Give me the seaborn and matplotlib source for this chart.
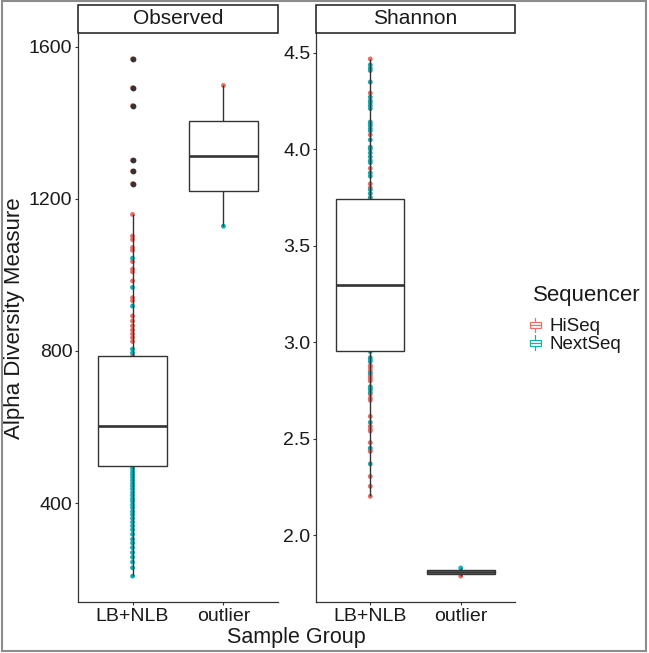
import numpy as np
import pandas as pd
import matplotlib
matplotlib.use("Agg")
import matplotlib.pyplot as plt
import seaborn as sns
from matplotlib.patches import Rectangle
from matplotlib.lines import Line2D
from matplotlib.legend_handler import HandlerBase

# ---------------- data ----------------
groups = ["LB+NLB", "outlier"]
sequencers = ["HiSeq", "NextSeq"]
measures = ["Observed", "Shannon"]
palette = {"HiSeq": "#EC7068", "NextSeq": "#10B2B8"}

# Observed richness, LB+NLB group
obs_lb_hiseq = [1568, 1492, 1445, 1301, 1273, 1240, 1159, 1102, 1093, 1072, 1065,
                1035, 1015, 1008, 984, 940, 932, 892, 879, 866, 855, 845, 835, 825,
                787, 778, 769, 762, 755, 748, 741, 734, 727, 720, 714, 708, 702, 696,
                690, 684, 678, 672, 666, 660, 654, 648, 642, 636, 630, 624, 618, 612,
                606, 602]
obs_lb_nextseq = [1044, 967, 918, 805, 795,
                  598, 594, 590, 587, 584, 581, 578, 575, 572, 569, 566, 563, 560,
                  556, 552, 548, 544, 540, 536, 532, 528, 524, 520, 516, 512, 508,
                  504, 500, 497,
                  490, 482, 475, 468, 460, 452, 445, 437, 428, 420, 412, 405, 396,
                  388, 378, 370, 360, 350, 340, 330, 318, 305, 295, 283, 270, 258,
                  245, 230, 208]
obs_out_hiseq = [1498]
obs_out_nextseq = [1128]

# Shannon index, LB+NLB group
sha_lb_hiseq = [4.467, 4.29, 4.074, 3.90, 3.82, 3.80,
                3.743, 3.73, 3.71, 3.69, 3.67, 3.66, 3.65, 3.64, 3.63, 3.62, 3.61,
                3.60, 3.59, 3.58, 3.57, 3.56, 3.55, 3.54, 3.53, 3.52, 3.51, 3.50,
                3.49, 3.47, 3.45, 3.43, 3.41, 3.39, 3.37, 3.35, 3.33, 3.31, 3.298,
                2.88, 2.875, 2.865, 2.85, 2.83, 2.82, 2.81, 2.80, 2.73, 2.71, 2.70,
                2.616, 2.565, 2.55, 2.54, 2.48, 2.44, 2.435, 2.305, 2.254, 2.202]
sha_lb_nextseq = [4.436, 4.419, 4.407, 4.347, 4.269, 4.25, 4.24, 4.225, 4.21,
                  4.14, 4.13, 4.12, 4.105, 4.095, 4.048, 4.01, 4.00, 3.98, 3.96,
                  3.94, 3.93, 3.876, 3.86, 3.79, 3.77, 3.75,
                  3.29, 3.27, 3.25, 3.23, 3.22, 3.21, 3.20, 3.19, 3.18, 3.17, 3.16,
                  3.15, 3.14, 3.13, 3.12, 3.11, 3.10, 3.09, 3.08, 3.07, 3.06, 3.05,
                  3.04, 3.03, 3.02, 3.01, 3.00, 2.99, 2.98, 2.97, 2.96, 2.952,
                  2.92, 2.91, 2.90, 2.84, 2.77, 2.76, 2.755, 2.74, 2.585, 2.452, 2.37]
sha_out_hiseq = [1.789]
sha_out_nextseq = [1.831]

y_limits = {"Observed": (140, 1636), "Shannon": (1.655, 4.601)}
y_ticks = {"Observed": [400, 800, 1200, 1600], "Shannon": [2.0, 2.5, 3.0, 3.5, 4.0, 4.5]}
y_ticklabels = {"Observed": ["400", "800", "1200", "1600"],
                "Shannon": ["2.0", "2.5", "3.0", "3.5", "4.0", "4.5"]}

rows = []
for meas, g, seq, vals in [
    ("Observed", "LB+NLB", "HiSeq", obs_lb_hiseq),
    ("Observed", "LB+NLB", "NextSeq", obs_lb_nextseq),
    ("Observed", "outlier", "HiSeq", obs_out_hiseq),
    ("Observed", "outlier", "NextSeq", obs_out_nextseq),
    ("Shannon", "LB+NLB", "HiSeq", sha_lb_hiseq),
    ("Shannon", "LB+NLB", "NextSeq", sha_lb_nextseq),
    ("Shannon", "outlier", "HiSeq", sha_out_hiseq),
    ("Shannon", "outlier", "NextSeq", sha_out_nextseq),
]:
    for v in vals:
        rows.append({"measure": meas, "group": g, "Sequencer": seq, "value": v})
df = pd.DataFrame(rows)

# ---------------- style ----------------
sns.set_theme(style="white")
plt.rcParams["font.family"] = ["Liberation Sans", "DejaVu Sans"]
plt.rcParams["axes.edgecolor"] = "#333333"
plt.rcParams["xtick.color"] = "#333333"
plt.rcParams["ytick.color"] = "#333333"
plt.rcParams["xtick.labelcolor"] = "#1a1a1a"
plt.rcParams["ytick.labelcolor"] = "#1a1a1a"

W, H = 649, 653
fig = plt.figure(figsize=(W / 100, H / 100), dpi=100)

panel_px = [(78, 278), (316, 515)]
top_px, bot_px = 33, 602
axes = []
for (l, r) in panel_px:
    ax = fig.add_axes([l / W, (H - bot_px) / H, (r - l) / W, (bot_px - top_px) / H])
    axes.append(ax)

for ax, meas in zip(axes, measures):
    sub = df[df["measure"] == meas]
    sns.stripplot(data=sub, x="group", y="value", hue="Sequencer", order=groups,
                  hue_order=sequencers, palette=palette, jitter=False, dodge=False,
                  size=3.5, linewidth=0, legend=False, zorder=1, ax=ax)
    sns.boxplot(data=sub, x="group", y="value", order=groups, color="white",
                linecolor="#333333", linewidth=1.0, width=0.75, showcaps=False,
                fliersize=4.2,
                flierprops=dict(marker="o", markerfacecolor="#333333",
                                markeredgecolor="#333333", markeredgewidth=0),
                medianprops=dict(linewidth=1.9, color="#333333"),
                zorder=3, ax=ax)
    ax.set_xlim(-0.6, 1.6)
    ax.set_ylim(*y_limits[meas])
    ax.set_yticks(y_ticks[meas])
    ax.set_yticklabels(y_ticklabels[meas])
    ax.set_xlabel("")
    ax.set_ylabel("")
    for s in ["top", "right"]:
        ax.spines[s].set_visible(False)
    for s in ["left", "bottom"]:
        ax.spines[s].set_linewidth(0.9)
        ax.spines[s].set_color("#333333")
    ax.tick_params(axis="both", which="major", length=2.5, width=0.8,
                   labelsize=14, pad=1.5, left=True, bottom=True)
    # facet strip
    sh = 28 / (bot_px - top_px)
    ax.add_patch(Rectangle((0, 1.0), 1, sh, transform=ax.transAxes, clip_on=False,
                           facecolor="white", edgecolor="#1a1a1a", linewidth=1.1))
    ax.text(0.5, 1.0 + sh / 2, meas, transform=ax.transAxes, ha="center",
            va="center", fontsize=15, color="#1a1a1a")

fig.text(15 / W, 1 - 318 / H, "Alpha Diversity Measure", rotation=90,
         ha="center", va="center", fontsize=16, color="#1a1a1a")
fig.text(296.5 / W, 1 - 643.5 / H, "Sample Group", ha="center", va="baseline",
         fontsize=15.5, color="#1a1a1a")


class BoxKey(HandlerBase):
    def create_artists(self, legend, orig_handle, xdescent, ydescent, width,
                       height, fontsize, trans):
        c = orig_handle.get_color()
        cx = 0.5 * width - xdescent
        bw = width
        y0 = -ydescent
        h = height
        box = Rectangle((cx - bw / 2, y0 + 0.27 * h), bw, 0.46 * h,
                        facecolor="white", edgecolor=c, lw=0.9, transform=trans)
        med = Line2D([cx - bw / 2, cx + bw / 2], [y0 + 0.5 * h] * 2, color=c,
                     lw=0.9, transform=trans)
        wl = Line2D([cx, cx], [y0, y0 + 0.27 * h], color=c, lw=0.9, transform=trans)
        wu = Line2D([cx, cx], [y0 + 0.73 * h, y0 + h], color=c, lw=0.9,
                    transform=trans)
        return [wl, wu, box, med]


fig.text(533 / W, 1 - 300.7 / H, "Sequencer", ha="left", va="baseline",
         fontsize=16, color="#1a1a1a")
handles = [Line2D([], [], color=palette[s]) for s in sequencers]
leg = fig.legend(handles, sequencers, loc="upper left",
                 bbox_to_anchor=(529.5 / W, 1 - 317.5 / H), frameon=False,
                 fontsize=13.5, handler_map={Line2D: BoxKey()},
                 handlelength=0.62, handleheight=0.85, handletextpad=0.45,
                 labelspacing=0.0, borderpad=0, borderaxespad=0)
for t in leg.get_texts():
    t.set_color("#1a1a1a")

fig.patches.append(Rectangle((1.5 / W, 2 / H), 644 / W, 650 / H,
                             transform=fig.transFigure, fill=False,
                             edgecolor="#8c8c8c", linewidth=1.5))

fig.savefig("out.png", dpi=100)
